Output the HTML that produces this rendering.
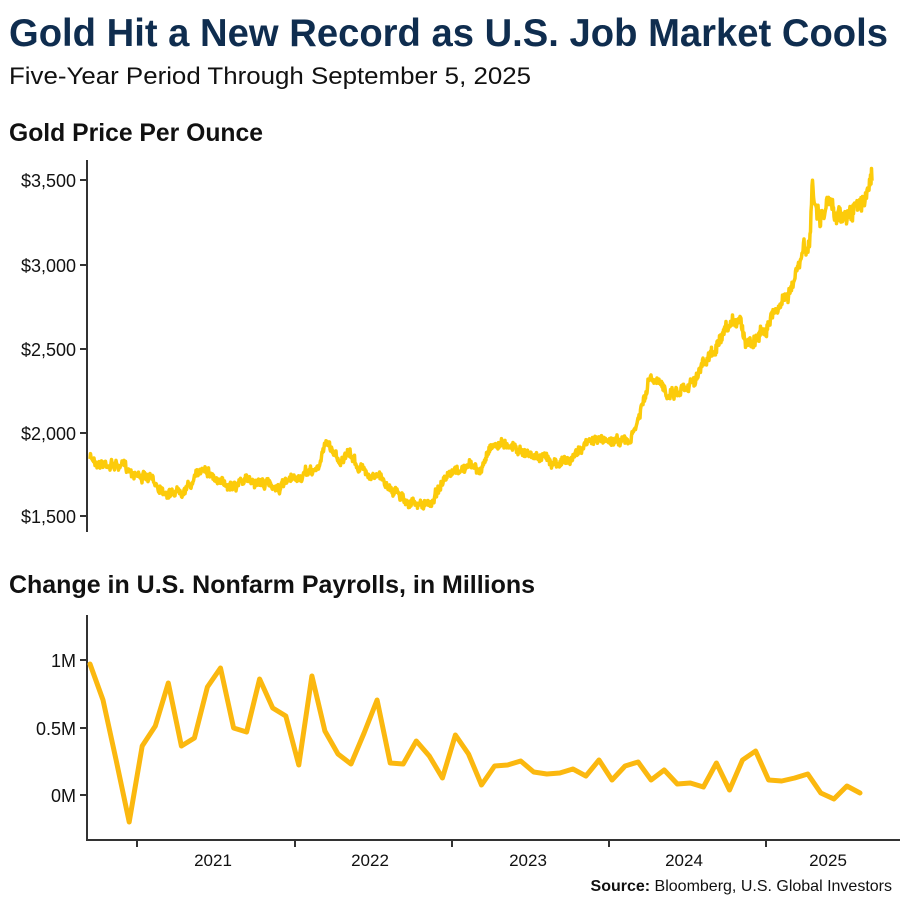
<!DOCTYPE html><html><head><style>body{margin:0;background:#fff}svg{display:block}text{font-family:"Liberation Sans",sans-serif}</style></head><body>
<svg id="s" width="900" height="900" xmlns="http://www.w3.org/2000/svg">
<text x="9" y="46" font-size="39" font-weight="bold" fill="#0f2d4f" textLength="879" lengthAdjust="spacingAndGlyphs">Gold Hit a New Record as U.S. Job Market Cools</text>
<text x="9" y="84" font-size="24" fill="#111" textLength="522" lengthAdjust="spacingAndGlyphs">Five-Year Period Through September 5, 2025</text>
<text x="9" y="141" font-size="25" font-weight="bold" fill="#111" textLength="254" lengthAdjust="spacingAndGlyphs">Gold Price Per Ounce</text>
<text x="9" y="593" font-size="25" font-weight="bold" fill="#111" textLength="526" lengthAdjust="spacingAndGlyphs">Change in U.S. Nonfarm Payrolls, in Millions</text>
<g stroke="#333" stroke-width="2" fill="none">
<path d="M87 160V532"/><path d="M87 615V840H900"/>
<path d="M80 180H87M80 265H87M80 349H87M80 433H87M80 516H87"/>
<path d="M80 660H87M80 728H87M80 795H87"/>
<path d="M137 840V847M295 840V847M452 840V847M609 840V847M766 840V847"/>
</g>
<g font-size="18" fill="#111" text-anchor="end">
<text x="76" y="187">$3,500</text><text x="76" y="272">$3,000</text><text x="76" y="356">$2,500</text><text x="76" y="440">$2,000</text><text x="76" y="523">$1,500</text>
<text x="76" y="667">1M</text><text x="76" y="735">0.5M</text><text x="76" y="802">0M</text>
</g>
<g font-size="17" fill="#111" text-anchor="middle">
<text x="213" y="866">2021</text><text x="370" y="866">2022</text><text x="528" y="866">2023</text><text x="684" y="866">2024</text><text x="828" y="866">2025</text>
</g>
<text x="892" y="891" font-size="16" text-anchor="end" fill="#111"><tspan font-weight="bold">Source:</tspan> Bloomberg, U.S. Global Investors</text>
<path id="pay" fill="none" stroke="#fbb80f" stroke-width="5" stroke-linejoin="round" stroke-linecap="round"/>
<path id="gold" fill="none" stroke="#fccb0a" stroke-width="3.5" stroke-linejoin="round"/>
</svg>
<script>
var p=[664,700,760,822,746,726,683,746,738,687,668,728,732,679,708,716,765,676,731,754,764,733,700,763,764,741,756,778,735,754,785,766,765,761,772,774,773,769,776,760,780,766,762,780,770,784,783,787,763,790,760,751,780,781,778,774,793,799,786,793];
var d="";for(var i=0;i<p.length;i++){d+=(i?"L":"M")+(90+i*13.05).toFixed(1)+" "+p[i];}
document.getElementById("pay").setAttribute("d",d);
var k=[[90,458],[100,462],[125,467],[150,480],[170,493],[190,485],[205,465],[220,485],[250,480],[280,487],[300,478],[320,467],[325,440],[340,460],[350,455],[360,468],[380,478],[400,495],[415,505],[430,505],[440,485],[460,470],[475,465],[480,475],[490,445],[510,443],[530,455],[550,460],[570,462],[580,448],[595,440],[620,440],[630,443],[640,415],[650,380],[665,390],[680,390],[700,370],[715,350],[730,330],[740,315],[745,340],[760,335],[775,310],[790,290],[800,265],[810,240],[812,190],[820,220],[830,205],[840,215],[860,210],[865,195],[872,170]];
var s=7,r=function(){s=(s*16807)%2147483647;return s/2147483647-0.5;};
var g="",n=0,j=0;
for(var x=90;x<=872;x+=0.5){while(j<k.length-2&&x>k[j+1][0])j++;var a=k[j],b=k[j+1],t=(x-a[0])/(b[0]-a[0]);if(t>1)t=1;
var y=a[1]+(b[1]-a[1])*t;n=n*0.85+r()*4;var amp=x>800?2.2:(x>640?1.4:1);g+=(g?"L":"M")+x.toFixed(1)+" "+(y+n*amp+r()*7*amp).toFixed(1);}
document.getElementById("gold").setAttribute("d",g);
</script>
</body></html>
